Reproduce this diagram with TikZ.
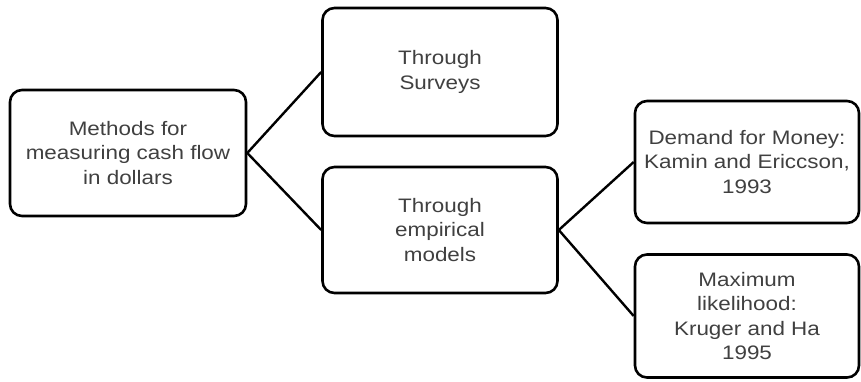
\documentclass[tikz,border=0pt]{standalone}
\usepackage{fontspec}
\setmainfont{Liberation Sans}[FakeStretch=1.15]
\usepackage{xcolor}
\usetikzlibrary{positioning}
\definecolor{boxtext}{RGB}{64,64,64}

\begin{document}
\begin{tikzpicture}[x=1pt, y=-1pt,
  methodbox/.style={rectangle, rounded corners=12pt, draw=black, line width=2.6pt, fill=white, align=center, text=boxtext, font=\fontsize{19.5}{24.5}\selectfont, inner sep=2pt},
  link/.style={draw=black, line width=2.4pt}]
\useasboundingbox (0,0) rectangle (861,381);
% Root
\node[methodbox, minimum width=236pt, minimum height=126pt] (root) at (128,153) {Methods for\\measuring cash flow\\in dollars};
% Middle column
\node[methodbox, minimum width=235pt, minimum height=128pt] (surv) at (440,72) {Through\\Surveys};
\node[methodbox, minimum width=235pt, minimum height=126pt] (emp) at (440,230) {Through\\empirical\\models};
% Right column
\node[methodbox, minimum width=224pt, minimum height=122pt] (dem) at (747,162) {Demand for Money:\\Kamin and Ericcson,\\1993};
\node[methodbox, minimum width=224pt, minimum height=123pt] (mle) at (747,316) {Maximum\\likelihood:\\Kruger and Ha\\1995};
% Links
\draw[link] (root.east)--(surv.west);
\draw[link] (root.east)--(emp.west);
\draw[link] (emp.east)--(dem.west);
\draw[link] (emp.east)--(mle.west);
\end{tikzpicture}
\end{document}
